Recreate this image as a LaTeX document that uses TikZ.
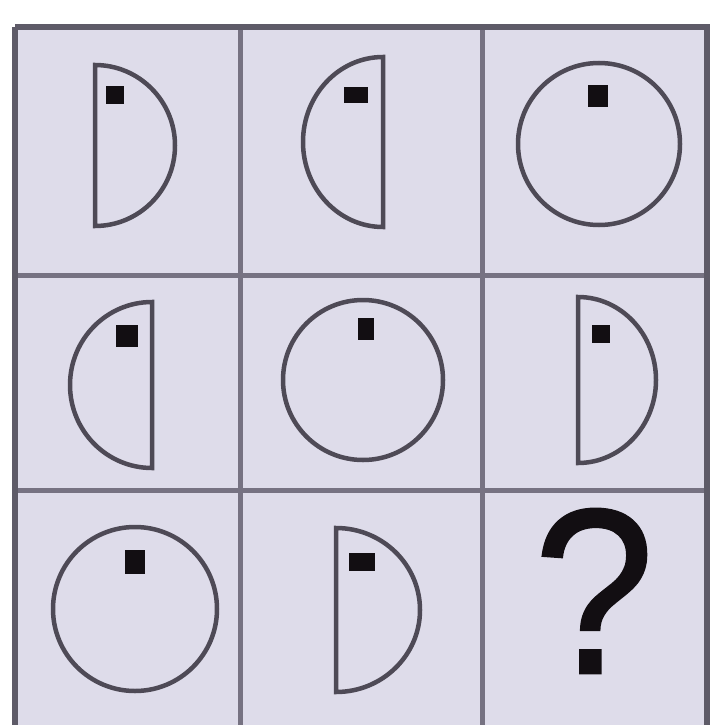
\documentclass[tikz,border=0pt]{standalone}
\usepackage{fontspec}
\setmainfont{Liberation Sans}
\newfontfamily\qfont[FakeBold=0.9]{Liberation Sans}
\definecolor{bgc}{RGB}{222,220,234}
\definecolor{gridc}{RGB}{118,114,130}
\definecolor{shapec}{RGB}{78,74,86}
\definecolor{dotc}{RGB}{18,14,18}
\tikzset{
  gridline/.style={draw=gridc,line width=5pt},
  outline/.style={draw=shapec,line width=4.5pt,line join=miter},
  dotbox/.style={fill=dotc,minimum width=18pt,minimum height=18pt,inner sep=0pt,draw=none,shape=rectangle}
}
\begin{document}
\begin{tikzpicture}[x=1pt,y=-1pt]
\useasboundingbox (0,0) rectangle (711,725);
\fill[white] (0,0) rectangle (711,725);
% panel
\fill[bgc] (14,27) rectangle (708,728);
\draw[gridline] (240,27) -- (240,728);
\draw[gridline] (482,27) -- (482,728);
\draw[gridline] (14,275) -- (708,275);
\draw[gridline] (14,490) -- (708,490);
\draw[draw=gridc!80!black,line width=6pt] (15,27) -- (707,27) -- (707,730);
\draw[draw=gridc!80!black,line width=6pt] (15,27) -- (15,730);
% row 1
\draw[outline] (95,65) -- (95,226) arc[start angle=90,end angle=-90,x radius=80,y radius=80.5] -- cycle;
\node[dotbox] (d1) at (115,95) {};
\draw[outline] (383,57) -- (383,227) arc[start angle=90,end angle=270,x radius=80,y radius=85] -- cycle;
\node[dotbox,minimum width=24pt,minimum height=16pt] (d2) at (356,95) {};
\draw[outline] (599,144) circle[radius=81];
\node[dotbox,minimum width=20pt,minimum height=22pt] (d3) at (598,96) {};
% row 2
\draw[outline] (152,302) -- (152,468) arc[start angle=90,end angle=270,x radius=82,y radius=83] -- cycle;
\node[dotbox,minimum width=22pt,minimum height=22pt] (d4) at (127,336) {};
\draw[outline] (363,380) circle[radius=80];
\node[dotbox,minimum width=16pt,minimum height=22pt] (d5) at (366,329) {};
\draw[outline] (578,297) -- (578,463) arc[start angle=90,end angle=-90,x radius=78,y radius=83] -- cycle;
\node[dotbox] (d6) at (601,334) {};
% row 3
\draw[outline] (135,609) circle[radius=82];
\node[dotbox,minimum width=20pt,minimum height=24pt] (d7) at (135,562) {};
\draw[outline] (336,528) -- (336,692) arc[start angle=90,end angle=-90,x radius=84,y radius=82] -- cycle;
\node[dotbox,minimum width=26pt,minimum height=18pt] (d8) at (362,562) {};
\node[inner sep=0pt,text=dotc,font=\qfont\fontsize{236}{236}\selectfont,xscale=0.92] (q) at (594,591) {?};
\end{tikzpicture}
\end{document}
